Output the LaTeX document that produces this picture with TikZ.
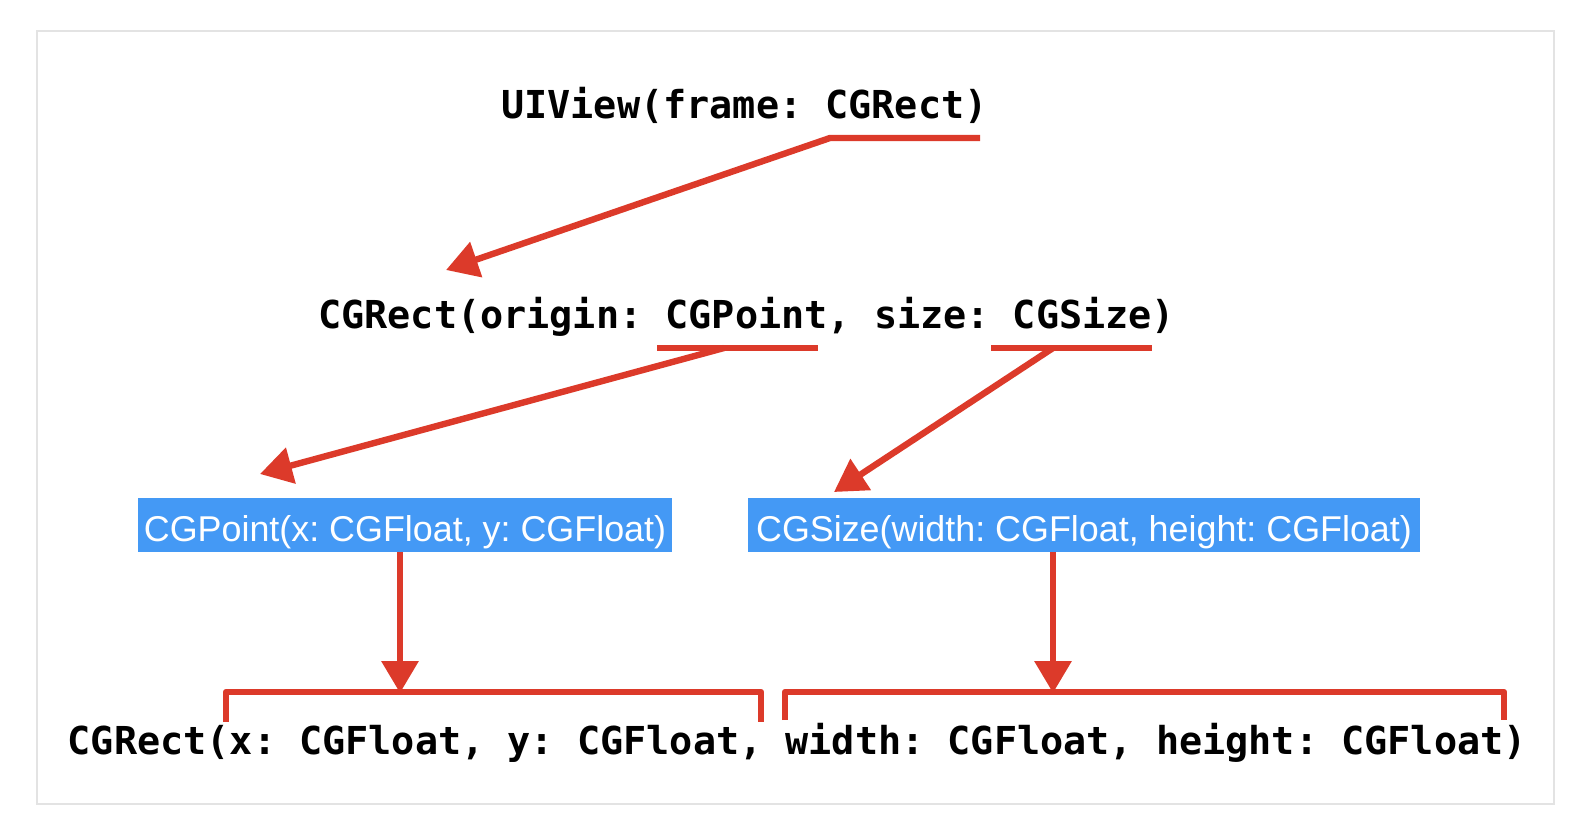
\documentclass[tikz,border=0pt]{standalone}
\usepackage{fontspec}
\setmainfont{Liberation Sans}
\newfontfamily\codefont{DejaVu Sans Mono}
\usetikzlibrary{arrows.meta,calc}
\definecolor{pen}{RGB}{220,58,42}
\definecolor{boxblue}{RGB}{68,153,245}
\definecolor{framegray}{RGB}{227,227,227}
\begin{document}
\begin{tikzpicture}[x=0.75pt,y=-0.75pt,
  code/.style={anchor=base west,inner sep=0pt,font=\codefont\bfseries\fontsize{28.85pt}{34pt}\selectfont\frenchspacing},
  typebox/.style={fill=boxblue,text=white,inner xsep=0pt,inner ysep=0pt,
     text height=32.4pt,text depth=8.1pt,
     font=\fontsize{26.9pt}{32pt}\selectfont\frenchspacing},
  pen/.style={draw=pen,line width=4.8pt,line join=round},
  penarrow/.style={pen,-{Triangle[length=24pt,width=27pt]}}]
\useasboundingbox (0,0) rectangle (1580,828);
\draw[framegray,line width=1.5pt] (37,31) rectangle (1554,804);
% text lines
\node[code] (l1) at (501,118) {UIView(frame: CGRect)};
\node[code] (l2) at (318,328.5) {CGRect(origin: CGPoint, size: CGSize)};
\node[code] (l4) at (67.5,754) {CGRect(x: CGFloat, y: CGFloat, width: CGFloat, height: CGFloat)};
% blue type boxes
\node[typebox,minimum width=534*0.75pt] (pt) at (405,525) {CGPoint(x: CGFloat, y: CGFloat)};
\node[typebox,minimum width=672*0.75pt] (sz) at (1084,525) {CGSize(width: CGFloat, height: CGFloat)};
% anchor coordinates
\coordinate (u1a) at (830,138);
\coordinate (u1b) at (980,138);
\coordinate (t1) at (446,270);
\coordinate (u2a) at (657,348);
\coordinate (u2b) at (818,348);
\coordinate (u2m) at (724,348);
\coordinate (t2) at (260,474);
\coordinate (u3a) at (991,348);
\coordinate (u3b) at (1152,348);
\coordinate (u3m) at (1053,348);
\coordinate (t3) at (834,492);
\coordinate (s4) at (400,552);
\coordinate (t4) at (400,693);
\coordinate (s5) at (1053,552);
\coordinate (t5) at (1053,693);
% connectors
\draw[penarrow] (u1b) -- (u1a) -- (t1);
\draw[pen] (u2a) -- (u2b);
\draw[penarrow] (u2m) -- (t2);
\draw[pen] (u3a) -- (u3b);
\draw[penarrow] (u3m) -- (t3);
\draw[penarrow] (s4) -- (t4);
\draw[penarrow] (s5) -- (t5);
% brackets
\draw[pen] (226,722) -- (226,692) -- (761,692) -- (761,722);
\draw[pen] (785,720) -- (785,692) -- (1504,692) -- (1504,720);
\end{tikzpicture}
\end{document}
